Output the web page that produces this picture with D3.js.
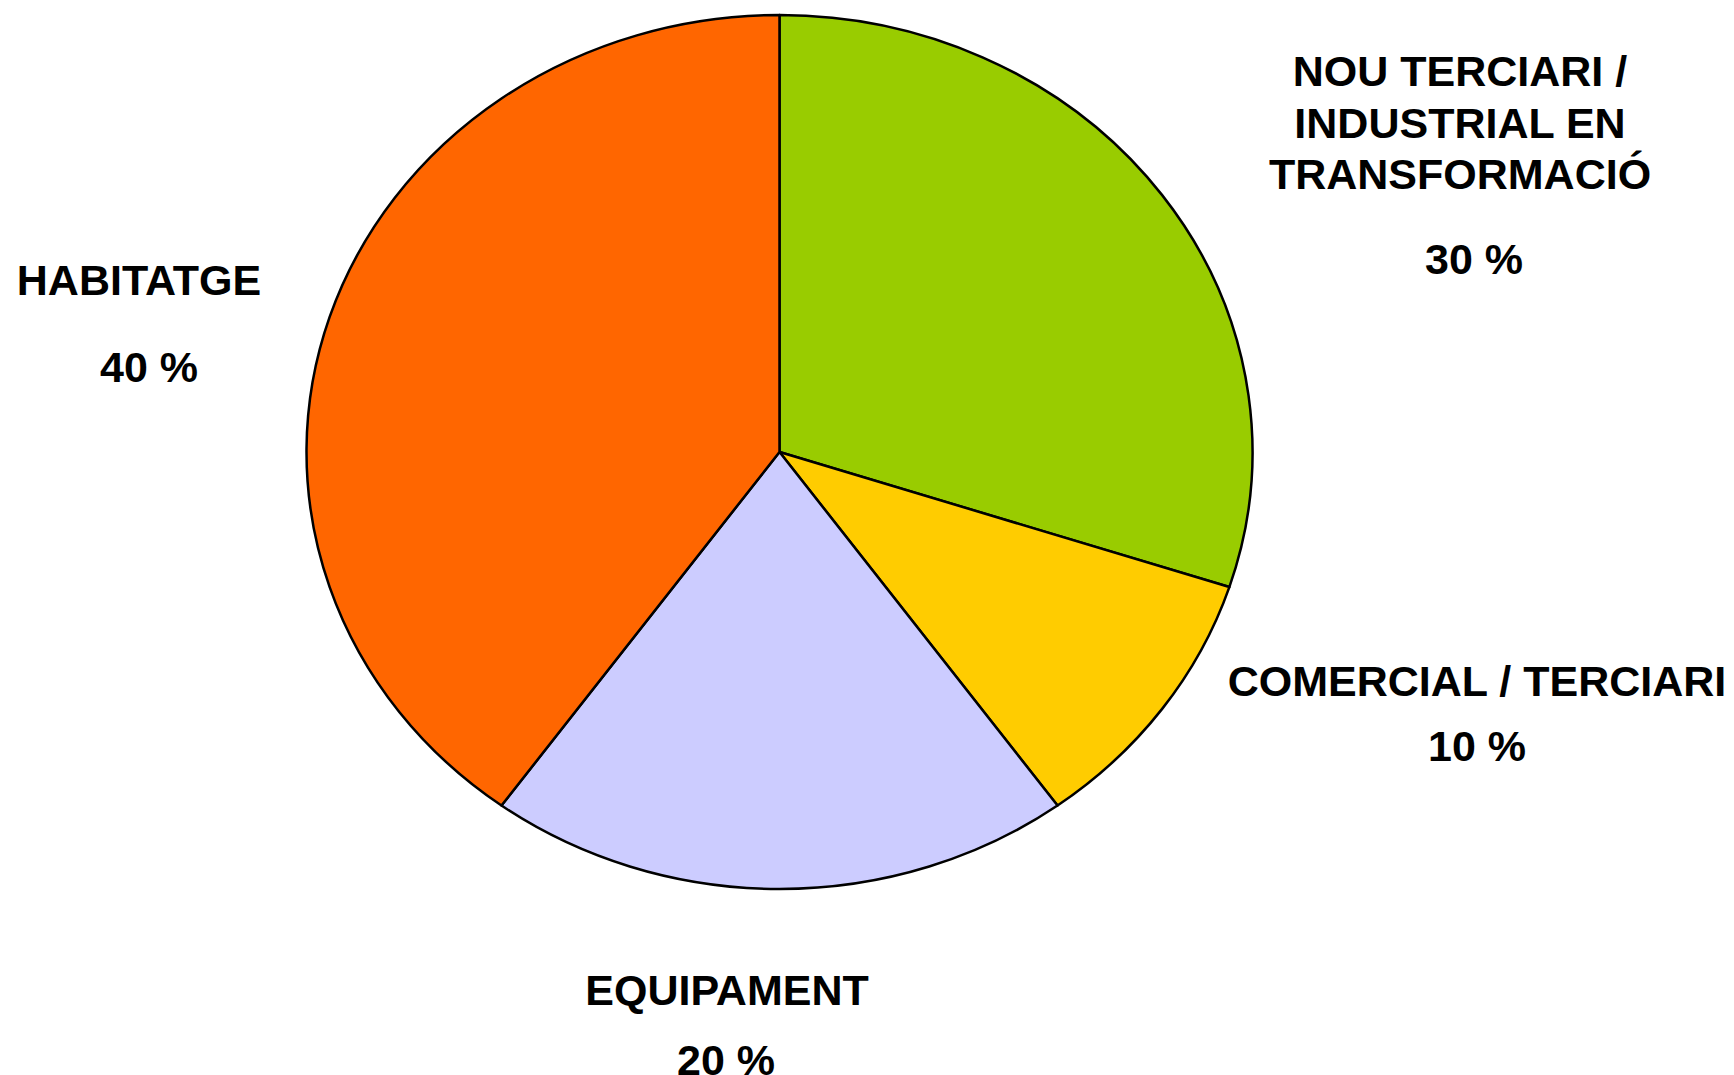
<!DOCTYPE html>
<html>
<head>
<meta charset="utf-8">
<script src="https://cdn.jsdelivr.net/npm/d3@7"></script>
<style>
  body { margin: 0; background: #fff; }
  text { font-family: "Liberation Sans", Arial, sans-serif; font-weight: bold; fill: #000; }
</style>
</head>
<body>
<svg id="chart" width="1734" height="1075"></svg>
<script>
// slices in drawing order, clockwise from 12 o'clock
const categories = ["NOU TERCIARI / INDUSTRIAL EN TRANSFORMACIÓ", "COMERCIAL / TERCIARI", "EQUIPAMENT", "HABITATGE"];
const values = [30, 10, 20, 40];
const colors = ["#99CC00", "#FFCC00", "#CCCCFF", "#FF6600"];
const labelLines = [
    ["NOU TERCIARI /", "INDUSTRIAL EN", "TRANSFORMACIÓ"],
    ["COMERCIAL / TERCIARI"],
    ["EQUIPAMENT"],
    ["HABITATGE"]
];
const pctLabels = ["30 %", "10 %", "20 %", "40 %"];

const svg = d3.select("#chart");

// the pie is an ellipse, so draw a circle and squash it
const cx = 779.5, cy = 452, rx = 473, ry = 437;

const pie = d3.pie().sort(null).value(d => d);
const arc = d3.arc().innerRadius(0).outerRadius(rx);

const g = svg.append("g")
    .attr("transform", `translate(${cx},${cy}) scale(1,${ry / rx})`);

g.selectAll("path")
    .data(pie(values))
    .join("path")
    .attr("d", arc)
    .attr("fill", (d, i) => colors[i])
    .attr("stroke", "#000")
    .attr("stroke-width", 2.5)
    .attr("stroke-linejoin", "round")
    .attr("vector-effect", "non-scaling-stroke");

// label positions (name block + percentage line)
const labelPos = [
    {x: 1460, y: 86, lh: 51.5, px: 1474, py: 274},
    {x: 1477, y: 696, lh: 0, px: 1477, py: 761},
    {x: 727, y: 1005, lh: 0, px: 726, py: 1075},
    {x: 139, y: 295, lh: 0, px: 149, py: 382}
];

const labels = svg.append("g");
labelLines.forEach((lines, i) => {
    const p = labelPos[i];
    const t = labels.append("text")
        .attr("text-anchor", "middle")
        .attr("font-size", 43);
    lines.forEach((s, j) => {
        t.append("tspan").attr("x", p.x).attr("y", p.y + j * p.lh).text(s);
    });
    labels.append("text")
        .attr("text-anchor", "middle")
        .attr("font-size", 43)
        .attr("x", p.px)
        .attr("y", p.py)
        .text(pctLabels[i]);
});
</script>
</body>
</html>
